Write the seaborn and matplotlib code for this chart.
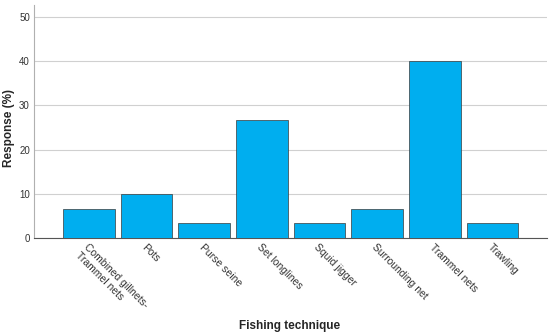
import matplotlib
matplotlib.use("Agg")
import matplotlib.pyplot as plt
import pandas as pd
import seaborn as sns

techniques = ["Combined gillnets-\nTrammel nets", "Pots", "Purse seine", "Set longlines",
              "Squid jigger", "Surrounding net", "Trammel nets", "Trawling"]
response = [6.67, 10.0, 3.33, 26.67, 3.33, 6.67, 40.0, 3.33]
yticks = [0, 10, 20, 30, 40, 50]

df = pd.DataFrame({"technique": techniques, "response": response})

sns.set_style("white")
plt.rcParams["font.family"] = ["Liberation Sans", "DejaVu Sans"]

fig = plt.figure(figsize=(5.5, 3.34), dpi=100)
ax = fig.add_axes([0.062, 0.287, 0.933, 0.698])

sns.barplot(data=df, x="technique", y="response", color="#00AEEF", saturation=1,
            width=0.9, edgecolor="#3a3a3a", linewidth=0.5, ax=ax, zorder=3)

ax.set_xlim(-0.95, 7.95)
ax.set_ylim(0, 52.7)
ax.set_yticks(yticks)
ax.yaxis.grid(True, color="#d0d0d0", linewidth=0.8, zorder=0)
ax.set_axisbelow(True)

for s in ["top", "right"]:
    ax.spines[s].set_visible(False)
ax.spines["left"].set_color("#b0b0b0")
ax.spines["bottom"].set_color("#555555")
ax.spines["left"].set_linewidth(0.8)
ax.spines["bottom"].set_linewidth(0.8)

ax.tick_params(axis="both", length=0, labelsize=7, labelcolor="#333333", pad=3)
plt.setp(ax.get_xticklabels(), rotation=-45, ha="left", va="top",
         rotation_mode="anchor", fontsize=7.5)

# axis titles placed in figure coords so they stay inside the canvas
ax.set_xlabel("")
ax.set_ylabel("")
fig.text(290 / 550, 1 - 326 / 334, "Fishing technique", fontsize=8.5,
         fontweight="bold", ha="center", va="center")
fig.text(9 / 550, 1 - 128 / 334, "Response (%)", fontsize=8.5,
         fontweight="bold", ha="center", va="center", rotation=90)

fig.savefig("out.png", dpi=100)
